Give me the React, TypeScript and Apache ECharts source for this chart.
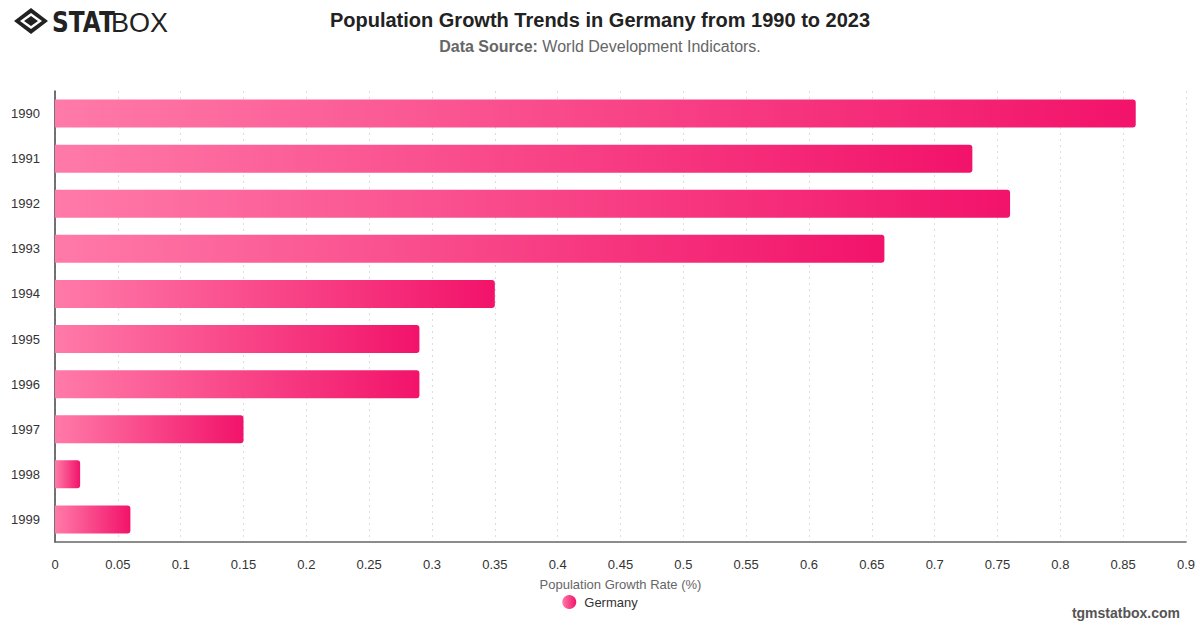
import React, { useEffect, useRef } from "react";
import * as echarts from "echarts";

const years = ["1990", "1991", "1992", "1993", "1994", "1995", "1996", "1997", "1998", "1999"];
const growthRates = [0.86, 0.73, 0.76, 0.66, 0.35, 0.29, 0.29, 0.15, 0.02, 0.06];
const xTicks = { min: 0, max: 0.9, interval: 0.05 };

const seriesName = "Germany";
const titleText = "Population Growth Trends in Germany from 1990 to 2023";
const sourceLabel = "Data Source:";
const sourceText = " World Development Indicators.";
const axisName = "Population Growth Rate (%)";
const siteText = "tgmstatbox.com";

// Brand mark: diamond outline with an inner diamond
const markPath =
  "M0 13 L17 0 L34 13 L17 26 Z M6 13 L17 21 L28 13 L17 5 Z M10 13 L17 8 L24 13 L17 18 Z";
echarts.graphic.registerShape("logo", echarts.graphic.extendPath(markPath as any, {}) as any);

const barGradient = () =>
  new echarts.graphic.LinearGradient(0, 0, 1, 0, [
    { offset: 0, color: "#ff7aa8" },
    { offset: 1, color: "#f2136a" },
  ]);

export default function App() {
  const ref = useRef<HTMLDivElement>(null);

  useEffect(() => {
    if (!ref.current) return;
    const chart = echarts.init(ref.current, null, { renderer: "svg" });
    const font = "'Liberation Sans', Arial, sans-serif";
    chart.setOption({
      animation: false,
      backgroundColor: "#ffffff",
      textStyle: { fontFamily: font },
      title: [
        {
          text: titleText,
          left: "center",
          top: 5,
          textStyle: { fontSize: 20, fontWeight: "bold", color: "#222222", fontFamily: font },
        },
        {
          text: `{b|${sourceLabel}}{n|${sourceText}}`,
          left: "center",
          top: 33,
          textStyle: {
            fontWeight: "normal",
            rich: {
              b: { fontSize: 16, fontWeight: "bold", color: "#666666", fontFamily: font },
              n: { fontSize: 16, fontWeight: "normal", color: "#666666", fontFamily: font },
            },
          },
        },
      ],
      legend: {
        data: [{ name: seriesName, icon: "circle" }],
        bottom: 14,
        left: "center",
        itemWidth: 14,
        itemHeight: 14,
        itemGap: 8,
        textStyle: { fontSize: 13, color: "#333333", fontFamily: font, padding: [0, 0, 0, 3] },
      },
      grid: { left: 55, right: 14, top: 91, bottom: 86, containLabel: false },
      xAxis: {
        type: "value",
        min: xTicks.min,
        max: xTicks.max,
        interval: xTicks.interval,
        name: axisName,
        nameLocation: "middle",
        nameGap: 36,
        nameTextStyle: { fontSize: 13, color: "#666666", fontFamily: font },
        axisLine: { show: true, lineStyle: { color: "#666666", width: 1.5 } },
        axisTick: { show: false },
        axisLabel: {
          fontSize: 13,
          color: "#333333",
          margin: 16,
          formatter: (v: number) => String(Math.round(v * 100) / 100),
        },
        splitLine: { show: true, lineStyle: { color: "#dddddd", type: [2, 4] } },
      },
      yAxis: {
        type: "category",
        data: years,
        inverse: true,
        axisLine: { show: true, lineStyle: { color: "#444444", width: 1.5 } },
        axisTick: { show: false },
        axisLabel: { fontSize: 13, color: "#333333", margin: 15 },
        splitLine: { show: false },
      },
      series: [
        {
          name: seriesName,
          type: "bar",
          data: growthRates,
          barWidth: 28,
          itemStyle: {
            color: barGradient(),
            borderRadius: [0, 3, 3, 0],
          },
        },
      ],
      graphic: [
        {
          type: "logo",
          x: 14,
          y: 8,
          style: { fill: "#222222", fillRule: "evenodd" } as any,
        },
        {
          type: "text",
          x: 52,
          y: 8,
          scaleX: 0.83,
          style: {
            text: "STAT",
            fontSize: 28,
            fontWeight: 900,
            fill: "#222222",
            fontFamily: "'DejaVu Sans', sans-serif",
          },
        },
        {
          type: "text",
          x: 111,
          y: 9,
          style: {
            text: "BOX",
            fontSize: 27,
            fontWeight: "normal",
            fill: "#222222",
            fontFamily: font,
          },
        },
        {
          type: "text",
          right: 20,
          top: 606,
          style: {
            text: siteText,
            fontSize: 14,
            fontWeight: "bold",
            fill: "#555555",
            fontFamily: font,
          },
        },
      ],
    });
    return () => chart.dispose();
  }, []);

  return (
    <div
      ref={ref}
      style={{ position: "fixed", left: 0, top: 0, width: 1200, height: 628 }}
    />
  );
}
